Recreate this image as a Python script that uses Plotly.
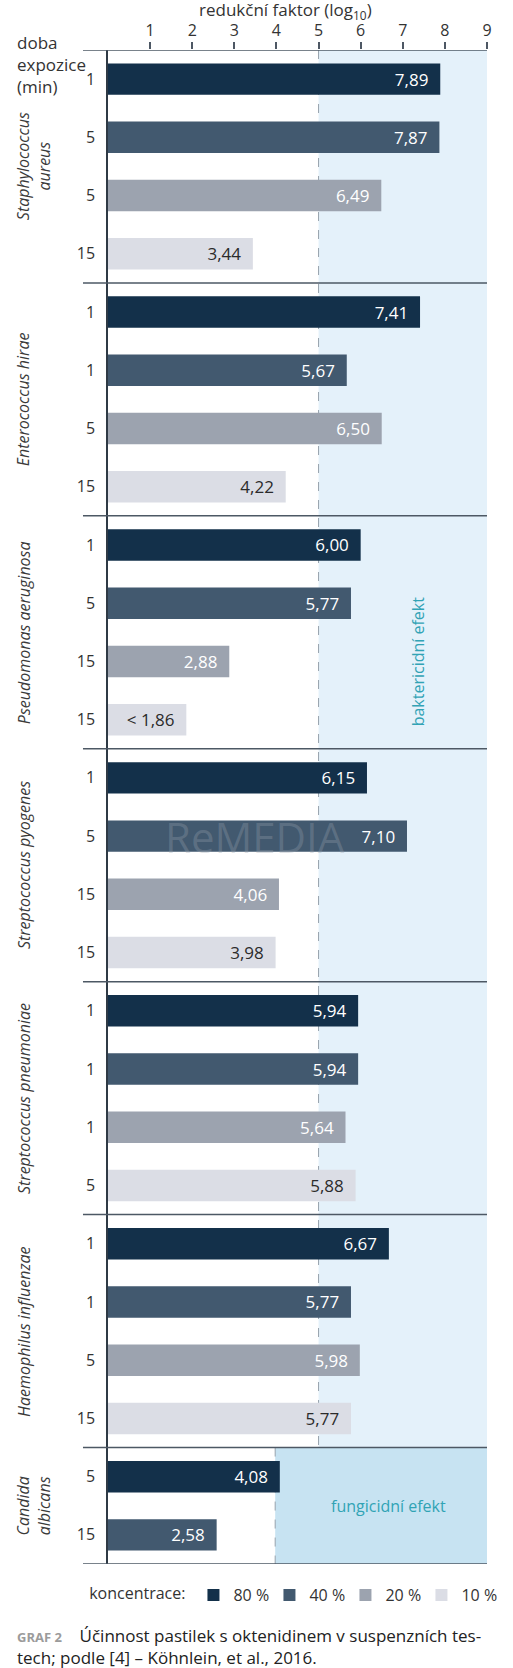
import plotly.graph_objects as go

# species in chart order; Candida only has two concentrations
species = [
    "Staphylococcus<br>aureus", "Enterococcus hirae", "Pseudomonas aeruginosa",
    "Streptococcus pyogenes", "Streptococcus pneumoniae", "Haemophilus influenzae",
    "Candida<br>albicans",
]
section_sizes = [4, 4, 4, 4, 4, 4, 2]

concentrations = ["80 %", "40 %", "20 %", "10 %"]

# reduction factor (log10) per concentration, one value per species
val_80 = [7.89, 7.41, 6.00, 6.15, 5.94, 6.67, 4.08]
val_40 = [7.87, 5.67, 5.77, 7.10, 5.94, 5.77, 2.58]
val_20 = [6.49, 6.50, 2.88, 4.06, 5.64, 5.98]
val_10 = [3.44, 4.22, 1.86, 3.98, 5.88, 5.77]

# exposure time (min) for each bar
time_80 = [1, 1, 1, 1, 1, 1, 5]
time_40 = [5, 1, 5, 5, 1, 1, 15]
time_20 = [5, 5, 15, 15, 1, 5]
time_10 = [15, 15, 15, 15, 5, 15]

labels_10 = ["3,44", "4,22", "< 1,86", "3,98", "5,88", "5,77"]

x_ticks = [1, 2, 3, 4, 5, 6, 7, 8, 9]

colors = ["#13304a", "#42596f", "#9ca3af", "#dbdde5"]
text_colors = ["white", "white", "white", "#2b2b2b"]
FONT = "Open Sans"

# section start rows
starts = []
acc = 0
for n in section_sizes:
    starts.append(acc)
    acc += n
total_rows = acc

fig = go.Figure()

series = [
    (val_80, time_80, None),
    (val_40, time_40, None),
    (val_20, time_20, None),
    (val_10, time_10, labels_10),
]

tick_pos, tick_txt = [], []
for ci, (vals, times, labs) in enumerate(series):
    ys = [starts[i] + ci + 0.5 for i in range(len(vals))]
    if labs is None:
        labs = [f"{v:.2f}".replace(".", ",") for v in vals]
    fig.add_trace(go.Bar(
        x=vals, y=ys, orientation="h", width=0.54,
        name=concentrations[ci],
        marker=dict(color=colors[ci], line=dict(width=0)),
        text=[t + "\u00a0\u00a0" for t in labs],
        textposition="inside", insidetextanchor="end", textangle=0,
        textfont=dict(family=FONT, size=17, color=text_colors[ci]),
        cliponaxis=False,
    ))
    tick_pos += ys
    tick_txt += [str(t) for t in times]

shapes = []
# effect zones
shapes.append(dict(type="rect", xref="x", yref="y", x0=5, x1=9, y0=0, y1=24,
                   fillcolor="#e4f1fa", line=dict(width=0), layer="below"))
shapes.append(dict(type="rect", xref="x", yref="y", x0=3.97, x1=9, y0=24, y1=26,
                   fillcolor="#c7e3f2", line=dict(width=0), layer="below"))
shapes.append(dict(type="line", xref="x", yref="y", x0=5, x1=5, y0=0, y1=24,
                   line=dict(color="#97a2ad", width=1, dash="dash"), layer="below"))
shapes.append(dict(type="line", xref="x", yref="y", x0=3.97, x1=3.97, y0=24, y1=26,
                   line=dict(color="#97a2ad", width=1, dash="dash"), layer="below"))
# separators (incl. top axis line and bottom line)
for yb in starts + [total_rows]:
    shapes.append(dict(type="line", xref="paper", yref="y", x0=-0.066, x1=1.0,
                       y0=yb, y1=yb, line=dict(color="#4d5864", width=1.5)))

annotations = []
sec_centers = [starts[i] + section_sizes[i] / 2 for i in range(len(species))]
for name, yc in zip(species, sec_centers):
    two = "<br>" in name
    annotations.append(dict(
        text="<i>" + name.replace("<br>", "</i><br><i>") + "</i>",
        xref="paper", yref="y", x=-0.196 if two else -0.222, y=yc,
        textangle=-90, showarrow=False, xanchor="center", yanchor="middle",
        font=dict(family=FONT, size=16, color="#3a3a3a"),
    ))

annotations += [
    dict(text="doba<br>expozice<br>(min)", xref="paper", yref="paper",
         x=-0.245, y=1.0138, xanchor="left", yanchor="top", align="left",
         showarrow=False, font=dict(family=FONT, size=17, color="#333333")),
    dict(text="redukční faktor (log<sub>10</sub>)", xref="paper", yref="paper",
         x=0.468, y=1.026, xanchor="center", yanchor="middle",
         showarrow=False, font=dict(family=FONT, size=17, color="#333333")),
    dict(text="baktericidní efekt", xref="x", yref="y", x=7.36, y=10.5,
         textangle=-90, showarrow=False,
         font=dict(family=FONT, size=16, color="#31a3b5")),
    dict(text="fungicidní efekt", xref="x", yref="y", x=6.65, y=25,
         showarrow=False, font=dict(family=FONT, size=16, color="#31a3b5")),
    dict(text="ReMEDIA", xref="x", yref="y", x=3.5, y=13.5,
         showarrow=False, font=dict(family=FONT, size=42, color="rgba(150,160,172,0.33)")),
    dict(text="<span style='font-size:13px;color:#9b9b9b'><b>GRAF 2</b></span>"
              "\u00a0\u00a0\u00a0 Účinnost pastilek s oktenidinem v suspenzních tes-<br>"
              "tech; podle [4] – Köhnlein, et al., 2016.",
         xref="paper", yref="paper", x=-0.245, y=-0.0385,
         xanchor="left", yanchor="top", align="left", showarrow=False,
         font=dict(family=FONT, size=17, color="#222222")),
]

fig.update_layout(
    width=513, height=1668,
    margin=dict(l=108, r=26, t=50, b=104),
    paper_bgcolor="white", plot_bgcolor="white",
    barmode="overlay",
    font=dict(family=FONT, size=16, color="#333333"),
    shapes=shapes, annotations=annotations,
    showlegend=True,
    legend=dict(
        orientation="h", x=-0.055, xanchor="left", y=-0.0205, yanchor="middle",
        title=dict(text="koncentrace:", side="left",
                   font=dict(family=FONT, size=16, color="#333333")),
        font=dict(family=FONT, size=16, color="#333333"),
        entrywidth=31, traceorder="normal",
    ),
    xaxis=dict(
        side="top", range=[0, 9], tickvals=x_ticks, ticktext=[str(t) for t in x_ticks],
        ticks="outside", ticklen=7, tickwidth=1.5, tickcolor="#4d5864",
        showgrid=False, zeroline=False, showline=False, fixedrange=True,
        tickfont=dict(family=FONT, size=16, color="#333333"),
    ),
    yaxis=dict(
        range=[total_rows, 0], tickvals=tick_pos, ticktext=tick_txt,
        ticks="", showgrid=False, zeroline=False,
        showline=True, linecolor="#2f3a45", linewidth=1.5,
        ticklabelstandoff=8,
        tickfont=dict(family=FONT, size=16, color="#333333"),
    ),
)

# drop the default page margin so the 513x1668 figure fills the window exactly
fig.write_html("out.html", config={"displayModeBar": False},
               post_script="document.body.style.margin='0';")
